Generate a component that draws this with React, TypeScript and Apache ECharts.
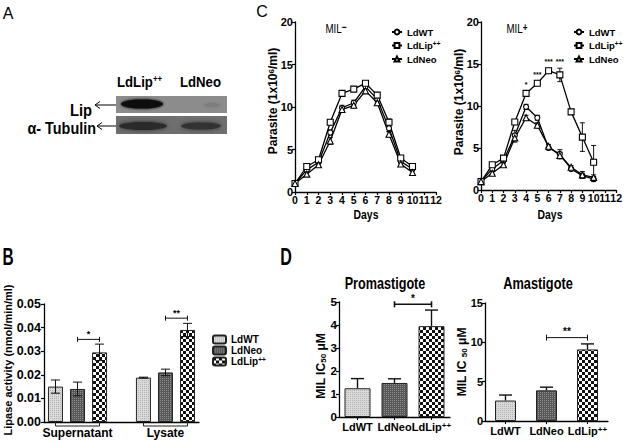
import React, { useEffect, useRef } from 'react';
import * as echarts from 'echarts';

// ---------- data ----------
const DAYS = [0, 1, 2, 3, 4, 5, 6, 7, 8, 9, 10];
const MINUS_WT = [1.0, 2.6, 3.5, 7.0, 9.9, 10.5, 12.4, 10.9, 7.5, 3.6, 2.7];
const MINUS_WT_ERR = [0.1, 0.2, 0.2, 0.3, 0.3, 0.3, 0.3, 0.3, 0.4, 0.2, 0.2];
const MINUS_LIP = [1.0, 3.0, 3.8, 8.2, 11.6, 12.1, 12.8, 11.4, 8.2, 4.0, 3.0];
const MINUS_LIP_ERR = [0.1, 0.2, 0.2, 0.3, 0.2, 0.2, 0.2, 0.3, 0.4, 0.2, 0.2];
const MINUS_NEO = [1.0, 2.1, 3.2, 6.0, 9.7, 10.2, 11.9, 10.5, 6.8, 3.3, 2.3];
const MINUS_NEO_ERR = [0.1, 0.2, 0.2, 0.4, 0.3, 0.3, 0.3, 0.3, 0.3, 0.2, 0.2];

const PLUS_WT = [1.0, 2.5, 3.5, 6.5, 9.9, 8.6, 5.0, 4.3, 2.5, 1.7, 1.3];
const PLUS_WT_ERR = [0.1, 0.2, 0.2, 0.6, 0.3, 0.3, 0.2, 0.5, 0.2, 0.3, 0.3];
const PLUS_LIP = [1.0, 3.0, 3.8, 8.1, 11.5, 12.7, 14.2, 13.7, 9.3, 6.3, 3.3];
const PLUS_LIP_ERR = [0.1, 0.2, 0.2, 0.3, 0.3, 0.3, 0.3, 0.8, 0.3, 1.7, 2.0];
const PLUS_NEO = [1.0, 2.0, 3.0, 6.2, 8.6, 7.7, 5.2, 4.1, 2.7, 1.8, 1.5];
const PLUS_NEO_ERR = [0.1, 0.2, 0.2, 0.5, 0.3, 0.3, 0.2, 0.4, 0.2, 0.4, 0.3];
const STAR_DAYS = [4, 5, 6, 7];
const STAR_TEXT = ['*', '***', '***', '***'];

const FRACTIONS = ['Supernatant', 'Lysate'];
const FRACTION_POS = [1, 2];
const LIPASE_WT = [0.015, 0.0188];
const LIPASE_WT_ERR = [0.0028, 0.0002];
const LIPASE_NEO = [0.014, 0.021];
const LIPASE_NEO_ERR = [0.0029, 0.0014];
const LIPASE_LIP = [0.0295, 0.039];
const LIPASE_LIP_ERR = [0.0035, 0.0028];
const LIPASE_SIG_Y = [0.035, 0.044];
const LIPASE_SIG_TEXT = ['*', '**'];

const STRAINS = ['LdWT', 'LdNeo', 'LdLip++'];
const PRO_IC50 = [1.25, 1.48, 3.95];
const PRO_ERR = [0.42, 0.18, 0.7];
const AMA_IC50 = [2.6, 3.9, 9.1];
const AMA_ERR = [0.7, 0.4, 0.7];
const SIG_PAIR = [1, 2];
const PRO_SIG_Y = 4.9;
const PRO_SIG_TEXT = '*';
const AMA_SIG_Y = 10.6;
const AMA_SIG_TEXT = '**';

// ---------- styles ----------
const SANS = "'Liberation Sans',Arial,Helvetica,sans-serif";
const BAR_BORDER = { borderColor: '#222', borderWidth: 1 };

function makePattern(size: number, base: string, ink: string, cells: number[][]) {
  const c = document.createElement('canvas');
  c.width = size;
  c.height = size;
  const ctx = c.getContext('2d')!;
  ctx.fillStyle = base;
  ctx.fillRect(0, 0, size, size);
  ctx.fillStyle = ink;
  cells.forEach(([x, y, w, h]) => ctx.fillRect(x, y, w, h));
  return { image: c, repeat: 'repeat' };
}

function buildPatterns() {
  const wt = makePattern(2, '#dadada', '#b2b2b2', [[0, 0, 1, 1]]);
  const neo = makePattern(2, '#575757', '#8e8e8e', [[0, 0, 1, 1]]);
  const lip = makePattern(6, '#ffffff', '#111111', [[0, 0, 3, 3], [3, 3, 3, 3]]);
  return [wt, neo, lip];
}

function errRender(capHalf: number, dx: number, upOnly: boolean, lw: number) {
  return (_params: any, api: any) => {
    const x = api.value(0);
    const y = api.value(1);
    const e = api.value(2);
    const c = api.coord([x, y]);
    const t = api.coord([x, y + e]);
    const b = upOnly ? c : api.coord([x, y - e]);
    const cx = c[0] + dx;
    const style = { stroke: '#111', lineWidth: lw, fill: 'none' };
    const children: any[] = [
      { type: 'line', shape: { x1: cx, y1: t[1], x2: cx, y2: b[1] }, style },
      { type: 'line', shape: { x1: cx - capHalf, y1: t[1], x2: cx + capHalf, y2: t[1] }, style },
    ];
    if (!upOnly) children.push({ type: 'line', shape: { x1: cx - capHalf, y1: b[1], x2: cx + capHalf, y2: b[1] }, style });
    return { type: 'group', children };
  };
}

function axisBase(gridIndex: number, size = 11.5, margin = 2) {
  return {
    gridIndex,
    axisLine: { show: true, onZero: false, lineStyle: { color: '#000', width: 1.3 } },
    axisTick: { show: true, length: 3, inside: false, lineStyle: { color: '#000', width: 1.2 } },
    splitLine: { show: false },
    axisLabel: { color: '#000', fontFamily: SANS, fontWeight: 'bold', fontSize: size, margin, showMinLabel: true, showMaxLabel: true },
  };
}

function lineSeries(name: string, vals: number[], g: number, symbol: string) {
  return {
    type: 'line',
    name,
    xAxisIndex: g,
    yAxisIndex: g,
    data: DAYS.map((d, i) => [d, vals[i]]),
    symbol,
    symbolSize: symbol === 'circle' ? 5 : 6,
    lineStyle: { color: '#000', width: 1.3 },
    itemStyle: { color: '#fff', borderColor: '#000', borderWidth: 1.1 },
    z: 3,
  };
}

function lineErr(vals: number[], errs: number[], g: number) {
  return {
    type: 'custom',
    xAxisIndex: g,
    yAxisIndex: g,
    silent: true,
    z: 2,
    data: DAYS.map((d, i) => [d, vals[i], errs[i]]),
    renderItem: errRender(2.5, 0, false, 1),
  };
}

function buildOption(): any {
  const PATS = buildPatterns();
  const txt = (x: number, y: number, text: string, font: string, extra: any = {}, scaleX = 1) => ({
    type: 'text',
    x,
    y,
    scaleX,
    style: { text, font, fill: '#000', align: 'center', verticalAlign: 'middle', ...extra },
    z: 100,
  });
  const vtxt = (x: number, y: number, text: string, font: string, rich?: any) => ({
    type: 'text',
    x,
    y,
    rotation: Math.PI / 2,
    style: { text, font, fill: '#000', align: 'center', verticalAlign: 'middle', rich },
    z: 100,
  });
  const supB = (size: number) => ({ s: { fontSize: size, fontFamily: SANS, fontWeight: 'bold', fill: '#000', verticalAlign: 'top' } });

  const graphic: any[] = [
    // panel letters
    txt(8, 13, 'A', `16px ${SANS}`),
    txt(8, 257, 'B', `bold 23px ${SANS}`, {}, 0.67),
    txt(262, 11, 'C', `16px ${SANS}`),
    txt(286, 257, 'D', `bold 23px ${SANS}`, {}, 0.7),
    // western blot
    { type: 'rect', shape: { x: 116, y: 96, width: 111, height: 17 }, style: { fill: '#8c8c8c' } },
    { type: 'rect', shape: { x: 116, y: 116, width: 111, height: 18 }, style: { fill: '#6f6f6f' } },
    { type: 'ellipse', shape: { cx: 142, cy: 104, rx: 21, ry: 4.5 }, style: { fill: '#0e0e0e', shadowBlur: 3, shadowColor: '#000' } },
    { type: 'ellipse', shape: { cx: 212, cy: 105, rx: 8, ry: 2 }, style: { fill: '#7d7d7d', shadowBlur: 3, shadowColor: '#7d7d7d' } },
    { type: 'ellipse', shape: { cx: 143, cy: 126, rx: 24, ry: 4 }, style: { fill: '#2a2a2a', shadowBlur: 4, shadowColor: '#2a2a2a' } },
    { type: 'ellipse', shape: { cx: 201, cy: 126, rx: 20, ry: 3.5 }, style: { fill: '#333', shadowBlur: 4, shadowColor: '#333' } },
    txt(117, 82, 'LdLip{s|++}', `bold 15px ${SANS}`, { align: 'left', rich: supB(9) }, 0.88),
    txt(180, 82, 'LdNeo', `bold 15px ${SANS}`, { align: 'left' }, 0.88),
    txt(92, 110, 'Lip', `bold 16px ${SANS}`, { align: 'right' }, 0.92),
    txt(96, 128, 'α- Tubulin', `bold 16px ${SANS}`, { align: 'right' }, 0.9),
    { type: 'line', shape: { x1: 95, y1: 105, x2: 116, y2: 105 }, style: { stroke: '#000', lineWidth: 1 } },
    { type: 'polyline', shape: { points: [[100, 101.5], [95, 105], [100, 108.5]] }, style: { stroke: '#000', lineWidth: 1, fill: 'none' } },
    { type: 'line', shape: { x1: 97, y1: 126, x2: 116, y2: 126 }, style: { stroke: '#000', lineWidth: 1 } },
    { type: 'polyline', shape: { points: [[102, 122.5], [97, 126], [102, 129.5]] }, style: { stroke: '#000', lineWidth: 1, fill: 'none' } },
    // panel C texts
    txt(336, 28, 'MIL{s|−}', `13px ${SANS}`, { rich: supB(11) }, 0.75),
    txt(517, 28, 'MIL{s|+}', `13px ${SANS}`, { rich: supB(11) }, 0.75),
    vtxt(273, 101, 'Parasite (1x10{s|6}/ml)', `bold 12px ${SANS}`, supB(8)),
    vtxt(459, 102, 'Parasite (1x10{s|6}/ml)', `bold 12px ${SANS}`, supB(8)),
    txt(366, 214, 'Days', `bold 13px ${SANS}`, {}, 0.8),
    txt(550, 214, 'Days', `bold 13px ${SANS}`, {}, 0.8),
    // panel B
    vtxt(8, 360, 'Lipase activity (nmol/min/ml)', `bold 11px ${SANS}`),
    // panel D
    txt(385, 283, 'Promastigote', `bold 16px ${SANS}`, {}, 0.79),
    txt(538, 283, 'Amastigote', `bold 16px ${SANS}`, {}, 0.8),
    vtxt(321, 366, 'MIL IC{b|50} μM', `bold 12px ${SANS}`, { b: { fontSize: 8, fontWeight: 'bold', fontFamily: SANS, verticalAlign: 'bottom' } }),
    vtxt(462, 362, 'MIL IC {b|50} μM', `bold 12px ${SANS}`, { b: { fontSize: 8, fontWeight: 'bold', fontFamily: SANS, verticalAlign: 'bottom' } }),
  ];

  const series: any[] = [
    // C left
    lineErr(MINUS_WT, MINUS_WT_ERR, 0),
    lineErr(MINUS_LIP, MINUS_LIP_ERR, 0),
    lineErr(MINUS_NEO, MINUS_NEO_ERR, 0),
    lineSeries('LdWT', MINUS_WT, 0, 'circle'),
    lineSeries('LdLip++', MINUS_LIP, 0, 'rect'),
    lineSeries('LdNeo', MINUS_NEO, 0, 'triangle'),
    // C right
    lineErr(PLUS_WT, PLUS_WT_ERR, 1),
    lineErr(PLUS_LIP, PLUS_LIP_ERR, 1),
    lineErr(PLUS_NEO, PLUS_NEO_ERR, 1),
    lineSeries('LdWT', PLUS_WT, 1, 'circle'),
    lineSeries('LdLip++', PLUS_LIP, 1, 'rect'),
    lineSeries('LdNeo', PLUS_NEO, 1, 'triangle'),
    {
      type: 'custom',
      xAxisIndex: 1,
      yAxisIndex: 1,
      silent: true,
      z: 4,
      data: STAR_DAYS.map((d) => [d, PLUS_LIP[d] + PLUS_LIP_ERR[d]]),
      renderItem: (params: any, api: any) => {
        const p = api.coord([api.value(0), api.value(1)]);
        return {
          type: 'text',
          x: p[0],
          y: p[1] - 3,
          style: { text: STAR_TEXT[params.dataIndex], font: `bold 7px ${SANS}`, fill: '#000', align: 'center', verticalAlign: 'bottom' },
        };
      },
    },
  ];

  // panel B bars
  const bDefs = [
    { name: 'B:LdWT', vals: LIPASE_WT, errs: LIPASE_WT_ERR, pat: PATS[0], dx: -22 },
    { name: 'B:LdNeo', vals: LIPASE_NEO, errs: LIPASE_NEO_ERR, pat: PATS[1], dx: 0 },
    { name: 'B:LdLip++', vals: LIPASE_LIP, errs: LIPASE_LIP_ERR, pat: PATS[2], dx: 22 },
  ];
  bDefs.forEach((d) => {
    series.push({
      type: 'bar',
      name: d.name,
      xAxisIndex: 2,
      yAxisIndex: 2,
      barWidth: 15,
      barGap: '47%',
      data: FRACTION_POS.map((p, i) => [p, d.vals[i]]),
      itemStyle: { color: d.pat, ...BAR_BORDER },
      z: 2,
    });
  });
  bDefs.forEach((d) => {
    series.push({
      type: 'custom',
      xAxisIndex: 2,
      yAxisIndex: 2,
      silent: true,
      z: 5,
      data: FRACTION_POS.map((p, i) => [p, d.vals[i], d.errs[i]]),
      renderItem: errRender(4.5, d.dx, false, 1),
    });
  });
  series.push({
    type: 'custom',
    xAxisIndex: 2,
    yAxisIndex: 2,
    silent: true,
    z: 5,
    data: FRACTION_POS.map((p, i) => [p, LIPASE_SIG_Y[i]]),
    renderItem: (params: any, api: any) => {
      const p = api.coord([api.value(0), api.value(1)]);
      const x1 = p[0];
      const x2 = p[0] + 22;
      const st = { stroke: '#111', lineWidth: 1 };
      return {
        type: 'group',
        children: [
          { type: 'line', shape: { x1, y1: p[1], x2, y2: p[1] }, style: st },
          { type: 'line', shape: { x1, y1: p[1] - 2.5, x2: x1, y2: p[1] + 2.5 }, style: st },
          { type: 'line', shape: { x1: x2, y1: p[1] - 2.5, x2, y2: p[1] + 2.5 }, style: st },
          { type: 'text', x: (x1 + x2) / 2, y: p[1] - 1, style: { text: LIPASE_SIG_TEXT[params.dataIndex], font: `bold 9px ${SANS}`, fill: '#000', align: 'center', verticalAlign: 'bottom' } },
        ],
      };
    },
  });
  series.push({
    type: 'custom',
    xAxisIndex: 2,
    yAxisIndex: 2,
    silent: true,
    z: 5,
    data: FRACTION_POS.map((p) => [p, 0]),
    renderItem: (_params: any, api: any) => {
      const p = api.coord([api.value(0), 0]);
      const x1 = p[0] - 22;
      const x2 = p[0] + 22;
      const yb = p[1] + 4;
      const st = { stroke: '#222', lineWidth: 1 };
      return {
        type: 'group',
        children: [
          { type: 'line', shape: { x1, y1: yb, x2, y2: yb }, style: st },
          { type: 'line', shape: { x1, y1: p[1], x2: x1, y2: yb }, style: st },
          { type: 'line', shape: { x1: x2, y1: p[1], x2, y2: yb }, style: st },
        ],
      };
    },
  });

  // panel D
  const dDefs = [
    { g: 3, vals: PRO_IC50, errs: PRO_ERR, width: 26, sigY: PRO_SIG_Y, sigT: PRO_SIG_TEXT, lw: 1.6 },
    { g: 4, vals: AMA_IC50, errs: AMA_ERR, width: 21, sigY: AMA_SIG_Y, sigT: AMA_SIG_TEXT, lw: 1 },
  ];
  dDefs.forEach((d) => {
    series.push({
      type: 'bar',
      xAxisIndex: d.g,
      yAxisIndex: d.g,
      barWidth: d.width,
      data: d.vals.map((v, i) => ({ value: v, itemStyle: { color: PATS[i], ...BAR_BORDER } })),
      z: 2,
    });
    series.push({
      type: 'custom',
      xAxisIndex: d.g,
      yAxisIndex: d.g,
      silent: true,
      z: 5,
      data: d.vals.map((v, i) => [i, v, d.errs[i]]),
      renderItem: errRender(6.5, 0, true, 1.4),
    });
    series.push({
      type: 'custom',
      xAxisIndex: d.g,
      yAxisIndex: d.g,
      silent: true,
      z: 5,
      data: [[SIG_PAIR[0], d.sigY, SIG_PAIR[1]]],
      renderItem: (_params: any, api: any) => {
        const a = api.coord([api.value(0), api.value(1)]);
        const b = api.coord([api.value(2), api.value(1)]);
        const st = { stroke: '#111', lineWidth: d.lw };
        return {
          type: 'group',
          children: [
            { type: 'line', shape: { x1: a[0], y1: a[1], x2: b[0], y2: b[1] }, style: st },
            { type: 'line', shape: { x1: a[0], y1: a[1] - 3, x2: a[0], y2: a[1] + 3 }, style: st },
            { type: 'line', shape: { x1: b[0], y1: b[1] - 3, x2: b[0], y2: b[1] + 3 }, style: st },
            { type: 'text', x: (a[0] + b[0]) / 2, y: a[1] - 1, style: { text: d.sigT, font: `bold 10px ${SANS}`, fill: '#000', align: 'center', verticalAlign: 'bottom' } },
          ],
        };
      },
    });
  });

  const legendText = (size: number, lh: number) => ({
    color: '#000',
    fontFamily: SANS,
    fontWeight: 'bold',
    fontSize: size,
    lineHeight: lh,
    rich: { s: { fontSize: 6.5, fontFamily: SANS, fontWeight: 'bold', color: '#000', verticalAlign: 'top', lineHeight: lh } },
  });
  const fmtLip = (n: string) => {
    const m = n.replace('B:', '');
    return m === 'LdLip++' ? 'LdLip{s|++}' : m;
  };

  const catLabel = {
    interval: 0,
    formatter: (v: string) => (v === 'LdLip++' ? 'LdLip{s|++}' : v),
    rich: { s: { fontSize: 8, fontFamily: SANS, fontWeight: 'bold', color: '#000', verticalAlign: 'top' } },
  };
  const cLegend = (left: number) => ({
    data: ['LdWT', 'LdLip++', 'LdNeo'],
    left,
    top: 21,
    orient: 'vertical',
    itemWidth: 10,
    itemHeight: 6,
    itemGap: 1.5,
    textStyle: legendText(9.5, 12),
    formatter: fmtLip,
    selectedMode: false,
  });

  return {
    animation: false,
    backgroundColor: '#fff',
    graphic,
    legend: [
      cLegend(386),
      cLegend(568),
      { data: ['B:LdWT', 'B:LdNeo', 'B:LdLip++'], left: 207, top: 329, orient: 'vertical', itemWidth: 13, itemHeight: 8, itemGap: 0, textStyle: legendText(10, 11), formatter: fmtLip, selectedMode: false },
    ],
    grid: [
      { left: 295, top: 22, width: 141, height: 170 },
      { left: 481, top: 22, width: 139, height: 168 },
      { left: 44, top: 304, width: 155, height: 118 },
      { left: 339, top: 302, width: 111, height: 115 },
      { left: 485, top: 303, width: 123, height: 118 },
    ],
    xAxis: [
      { ...axisBase(0, 10.5, 2), type: 'value', min: 0, max: 12, interval: 1 },
      { ...axisBase(1, 10.5, 2), type: 'value', min: 0, max: 12, interval: 1 },
      {
        ...axisBase(2),
        type: 'value',
        min: 0.619,
        max: 2.381,
        axisTick: { show: false },
        axisLabel: {
          color: '#000', fontFamily: SANS, fontWeight: 'bold', fontSize: 12, margin: 5,
          customValues: FRACTION_POS,
          formatter: (v: number) => FRACTIONS[FRACTION_POS.indexOf(v)] ?? '',
        },
      },
      { ...axisBase(3), type: 'category', data: STRAINS, axisTick: { show: true, alignWithLabel: true, length: 3, lineStyle: { color: '#000' } }, axisLabel: { ...axisBase(3, 11, 4).axisLabel, ...catLabel } },
      { ...axisBase(4), type: 'category', data: STRAINS, axisTick: { show: true, alignWithLabel: true, length: 3, lineStyle: { color: '#000' } }, axisLabel: { ...axisBase(4, 11, 4).axisLabel, ...catLabel } },
    ],
    yAxis: [
      { ...axisBase(0, 11), type: 'value', min: 0, max: 20, interval: 5 },
      { ...axisBase(1, 11), type: 'value', min: 0, max: 20, interval: 5 },
      { ...axisBase(2), type: 'value', min: 0, max: 0.05, interval: 0.01, axisLabel: { ...axisBase(2, 12.5, 3).axisLabel, formatter: (v: number) => v.toFixed(2) } },
      { ...axisBase(3, 11.5), type: 'value', min: 0, max: 5, interval: 1 },
      { ...axisBase(4, 11), type: 'value', min: 0, max: 15, interval: 5 },
    ],
    series,
  };
}

export default function App() {
  const ref = useRef<HTMLDivElement>(null);
  useEffect(() => {
    if (!ref.current) return;
    const chart = echarts.init(ref.current, undefined, { renderer: 'svg' });
    chart.setOption(buildOption());
    return () => chart.dispose();
  }, []);
  return (
    <div
      ref={ref}
      style={{ position: 'fixed', left: 0, top: 0, width: 625, height: 442, background: '#fff' }}
    />
  );
}
